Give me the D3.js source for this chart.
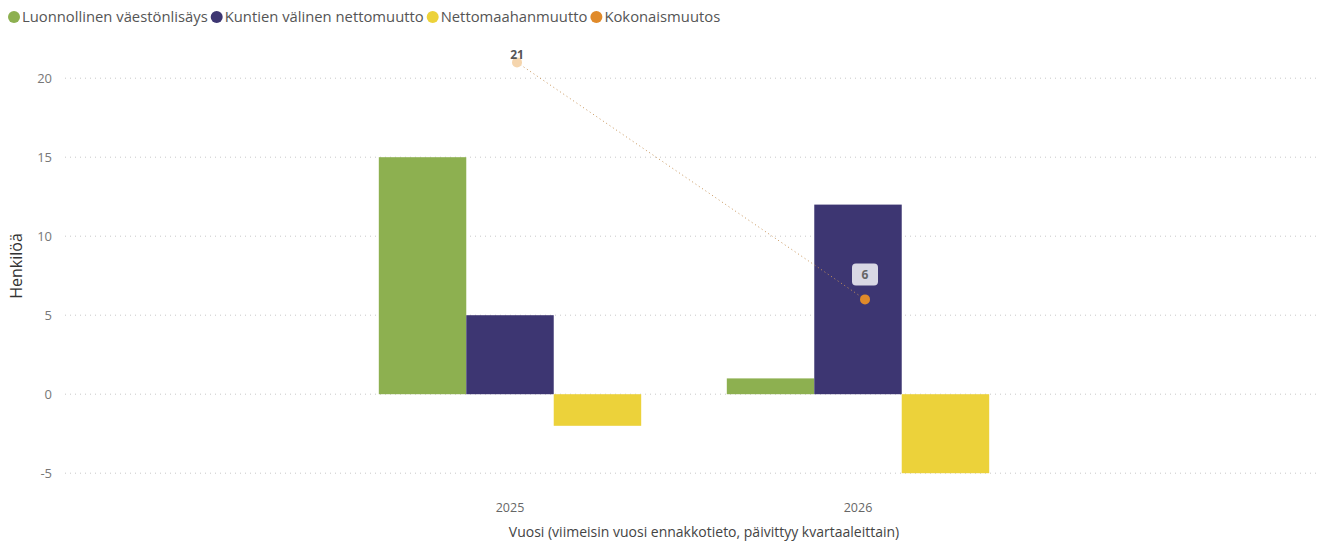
<!DOCTYPE html>
<html>
<head>
<meta charset="utf-8">
<script src="https://cdn.jsdelivr.net/npm/d3@7"></script>
<style>
  body { margin: 0; background: #fff; }
  text { font-family: "Open Sans", sans-serif; }
</style>
</head>
<body>
<div id="chart"></div>
<script>
// Data
var years = ["2025", "2026"];
var seriesNames = ["Luonnollinen väestönlisäys", "Kuntien välinen nettomuutto", "Nettomaahanmuutto"];
var luonnollinen = [15, 1];
var kuntienValinen = [5, 12];
var nettomaahanmuutto = [-2, -5];
var kokonaismuutos = [21, 6];
var lineName = "Kokonaismuutos";
var yTicks = [-5, 0, 5, 10, 15, 20];

var colors = ["#8db050", "#3d3672", "#ecd23a"];
var lineColor = "#e08a2a";

var svgWidth = 1327;
var svgHeight = 543;

var svg = d3.select("#chart")
  .append("svg")
  .attr("width", svgWidth)
  .attr("height", svgHeight);

// Scales
var x = d3.scaleBand()
  .domain(years)
  .range([336, 1032])
  .paddingInner(0.246)
  .paddingOuter(0.123);

var xInner = d3.scaleBand()
  .domain(seriesNames)
  .range([0, x.bandwidth()]);

var y = d3.scaleLinear()
  .domain([-6, 22])
  .range([489, 46.6]);

// Gridlines
svg.append("g")
  .selectAll("line")
  .data(yTicks)
  .enter()
  .append("line")
  .attr("x1", 65)
  .attr("x2", 1320)
  .attr("y1", d => y(d))
  .attr("y2", d => y(d))
  .attr("stroke", "#c8c8c8")
  .attr("stroke-width", 1)
  .attr("stroke-dasharray", "1,4");

// Y axis
var leftAxis = d3.axisLeft(y).tickValues(yTicks).tickSize(0).tickPadding(0)
  .tickFormat(d => String(d));
var yAxis = svg.append("g")
  .attr("transform", "translate(52,0)")
  .call(leftAxis);
yAxis.select(".domain").remove();
yAxis.selectAll("text")
  .attr("fill", "#777")
  .style("font-size", "13px")
  .style("font-family", "Open Sans, sans-serif");

// X axis
var bottomAxis = d3.axisBottom(x).tickSize(0).tickPadding(0);
var xAxis = svg.append("g")
  .attr("transform", "translate(0,503)")
  .call(bottomAxis);
xAxis.select(".domain").remove();
xAxis.selectAll("text")
  .attr("fill", "#666")
  .style("font-size", "12.5px")
  .style("font-family", "Open Sans, sans-serif");

// Axis titles
svg.append("text")
  .attr("transform", "translate(22,266) rotate(-90)")
  .attr("text-anchor", "middle")
  .attr("fill", "#333")
  .style("font-size", "16px")
  .text("Henkilöä");

svg.append("text")
  .attr("x", 704)
  .attr("y", 537)
  .attr("text-anchor", "middle")
  .attr("fill", "#444")
  .style("font-size", "14px")
  .text("Vuosi (viimeisin vuosi ennakkotieto, päivittyy kvartaaleittain)");

// Bars
var barValues = [luonnollinen, kuntienValinen, nettomaahanmuutto];
var barData = [];
years.forEach(function(yr, i) {
  seriesNames.forEach(function(s, j) {
    barData.push({ year: yr, series: s, value: barValues[j][i], color: colors[j] });
  });
});

svg.append("g")
  .selectAll("rect")
  .data(barData)
  .enter()
  .append("rect")
  .attr("x", d => x(d.year) + xInner(d.series))
  .attr("width", xInner.bandwidth())
  .attr("y", d => y(Math.max(0, d.value)))
  .attr("height", d => Math.abs(y(d.value) - y(0)))
  .attr("fill", d => d.color);

// Line
var lineData = years.map(function(yr, i) { return { year: yr, value: kokonaismuutos[i] }; });
var lineX = d => x(d.year) + x.bandwidth() / 2 + 7;

svg.append("path")
  .datum(lineData)
  .attr("fill", "none")
  .attr("stroke", "#c8955a")
  .attr("stroke-width", 1)
  .attr("stroke-dasharray", "1,3")
  .attr("d", d3.line().x(lineX).y(d => y(d.value)));

svg.append("g")
  .selectAll("circle")
  .data(lineData)
  .enter()
  .append("circle")
  .attr("cx", lineX)
  .attr("cy", d => y(d.value))
  .attr("r", 5)
  .attr("fill", (d, i) => i === 0 ? "#f5d5ad" : lineColor);

// Labels
var first = lineData[0];
svg.append("text")
  .attr("x", lineX(first))
  .attr("y", y(first.value) - 3)
  .attr("text-anchor", "middle")
  .attr("fill", "#555")
  .style("font-size", "12px")
  .style("font-weight", "bold")
  .text(first.value);

var last = lineData[1];
svg.append("rect")
  .attr("x", lineX(last) - 13)
  .attr("y", y(last.value) - 36)
  .attr("width", 26)
  .attr("height", 22)
  .attr("rx", 4)
  .attr("fill", "#d9d8e4");
svg.append("text")
  .attr("x", lineX(last))
  .attr("y", y(last.value) - 20)
  .attr("text-anchor", "middle")
  .attr("fill", "#666")
  .style("font-size", "12px")
  .style("font-weight", "bold")
  .text(last.value);

// Legend
var legendItems = seriesNames.map((s, i) => ({ name: s, color: colors[i] }))
  .concat([{ name: lineName, color: lineColor }]);

var legend = svg.append("g").attr("transform", "translate(0,17)");
var lx = 8;
legendItems.forEach(function(item) {
  legend.append("circle")
    .attr("cx", lx + 6)
    .attr("cy", 0)
    .attr("r", 6)
    .attr("fill", item.color);
  var t = legend.append("text")
    .attr("x", lx + 14)
    .attr("y", 5)
    .attr("fill", "#555")
    .style("font-size", "14.8px")
    .text(item.name);
  lx += 14 + t.node().getComputedTextLength() + 3;
});
</script>
</body>
</html>
